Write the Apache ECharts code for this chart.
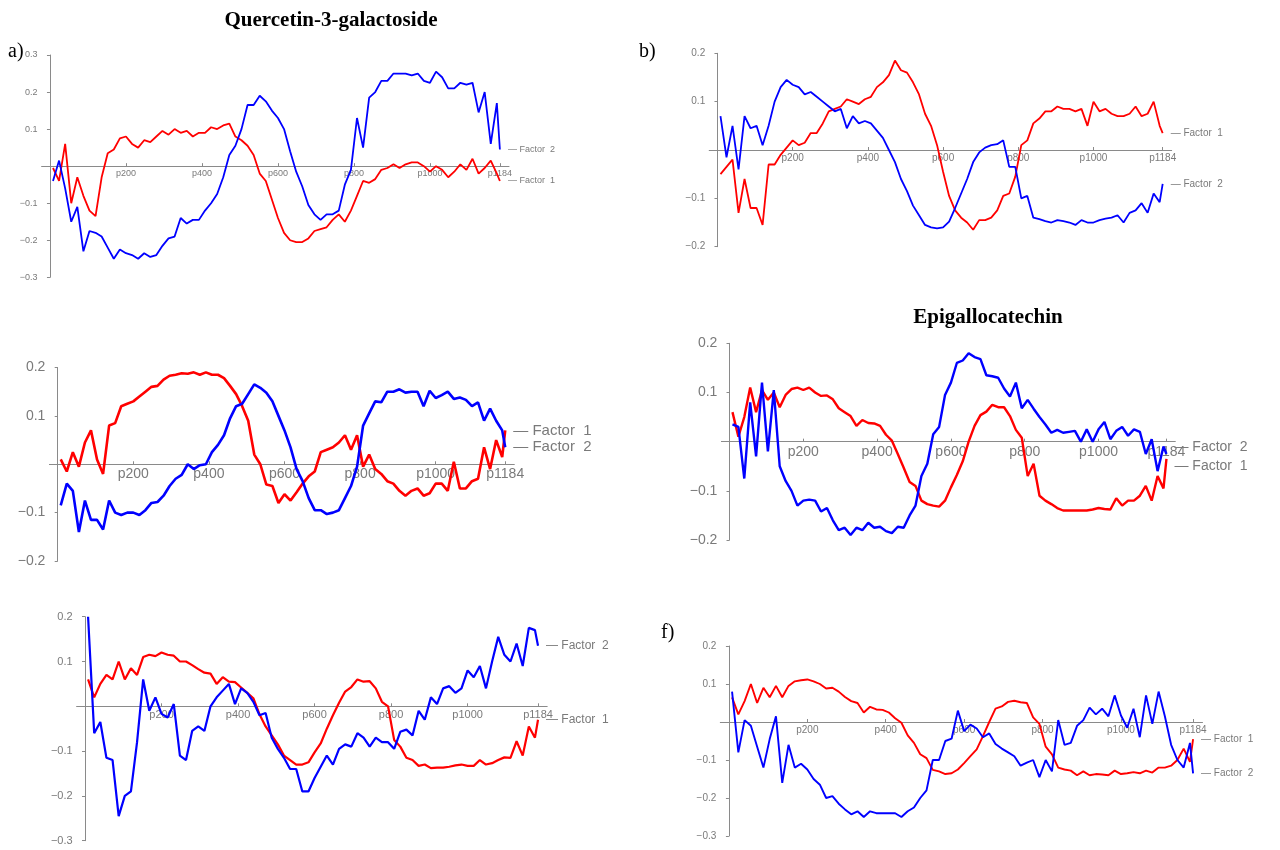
<!DOCTYPE html>
<html>
<head>
<meta charset="utf-8">
<script src="https://cdn.jsdelivr.net/npm/echarts@6/dist/echarts.min.js"></script>
<style>
html, body { margin: 0; background: #fff; }
#chart { width: 1280px; height: 850px; }
</style>
</head>
<body>
<div id="chart"></div>
<script>
// variable positions (every second sampled wavelength) and the labelled ticks
const positions = [8, 24, 40, 56, 72, 88, 104, 120, 136, 152, 168, 184, 200, 216, 232, 248, 264, 280, 296, 312,
    328, 344, 360, 376, 392, 408, 424, 440, 456, 472, 488, 504, 520, 536, 552, 568, 584, 600, 616, 632,
    648, 664, 680, 696, 712, 728, 744, 760, 776, 792, 808, 824, 840, 856, 872, 888, 904, 920, 936, 952,
    968, 984, 1000, 1016, 1032, 1048, 1064, 1080, 1096, 1112, 1128, 1144, 1160, 1176, 1184]
const xTicks = [200, 400, 600, 800, 1000, 1184]

// a) Quercetin-3-galactoside
const aFactor1 = [-0.005, -0.04, 0.06, -0.10, -0.03, -0.08, -0.12, -0.135, -0.03, 0.035, 0.045, 0.075, 0.08, 0.06, 0.05, 0.07, 0.065, 0.08, 0.095, 0.085,
    0.1, 0.09, 0.095, 0.08, 0.09, 0.09, 0.105, 0.1, 0.11, 0.115, 0.08, 0.07, 0.055, 0.03, -0.02, -0.04, -0.09, -0.14, -0.18, -0.2,
    -0.205, -0.205, -0.195, -0.175, -0.17, -0.165, -0.145, -0.13, -0.15, -0.12, -0.08, -0.04, -0.045, -0.035, -0.01, -0.005, 0.005, -0.005, 0.005, 0.01,
    0.01, 0.0, -0.015, 0.0, -0.01, -0.03, -0.015, 0.005, -0.01, 0.02, -0.02, -0.005, 0.015, -0.02, -0.04]
const aFactor2 = [-0.04, 0.015, -0.06, -0.15, -0.11, -0.23, -0.175, -0.18, -0.19, -0.22, -0.25, -0.225, -0.235, -0.24, -0.25, -0.235, -0.245, -0.24, -0.215, -0.195,
    -0.19, -0.14, -0.155, -0.145, -0.145, -0.12, -0.1, -0.075, -0.03, 0.03, 0.055, 0.1, 0.165, 0.165, 0.19, 0.175, 0.15, 0.13, 0.1, 0.04,
    -0.015, -0.055, -0.105, -0.13, -0.145, -0.13, -0.13, -0.12, -0.05, -0.01, 0.13, 0.05, 0.185, 0.2, 0.23, 0.23, 0.25, 0.25, 0.25, 0.245,
    0.25, 0.23, 0.225, 0.255, 0.24, 0.21, 0.21, 0.225, 0.22, 0.225, 0.145, 0.2, 0.06, 0.17, 0.045]

// b)
const bFactor1 = [-0.05, -0.035, -0.02, -0.13, -0.06, -0.12, -0.12, -0.155, -0.03, -0.03, -0.01, 0.005, 0.02, 0.01, 0.015, 0.035, 0.035, 0.055, 0.08, 0.085,
    0.09, 0.105, 0.1, 0.095, 0.105, 0.11, 0.13, 0.14, 0.155, 0.185, 0.165, 0.16, 0.14, 0.115, 0.075, 0.05, 0.01, -0.045, -0.095, -0.125,
    -0.14, -0.15, -0.165, -0.145, -0.145, -0.14, -0.125, -0.095, -0.09, -0.055, 0.01, 0.02, 0.055, 0.065, 0.08, 0.08, 0.09, 0.085, 0.085, 0.08,
    0.085, 0.05, 0.1, 0.08, 0.085, 0.075, 0.07, 0.07, 0.075, 0.09, 0.07, 0.075, 0.1, 0.05, 0.035]
const bFactor2 = [0.07, -0.015, 0.05, -0.04, 0.07, 0.045, 0.05, 0.01, 0.05, 0.1, 0.13, 0.145, 0.135, 0.13, 0.115, 0.12, 0.11, 0.1, 0.09, 0.08,
    0.085, 0.045, 0.07, 0.055, 0.06, 0.055, 0.04, 0.025, 0.0, -0.025, -0.06, -0.085, -0.115, -0.135, -0.155, -0.16, -0.162, -0.16, -0.148, -0.12,
    -0.09, -0.06, -0.025, -0.005, 0.005, 0.01, 0.012, 0.02, -0.035, -0.035, -0.1, -0.095, -0.14, -0.143, -0.147, -0.15, -0.145, -0.147, -0.15, -0.155,
    -0.145, -0.15, -0.15, -0.145, -0.142, -0.14, -0.135, -0.15, -0.13, -0.125, -0.11, -0.13, -0.09, -0.108, -0.07]

// c)
const cFactor1 = [0.01, -0.015, 0.025, -0.005, 0.045, 0.07, 0.01, -0.02, 0.08, 0.085, 0.12, 0.125, 0.13, 0.14, 0.15, 0.16, 0.162, 0.175, 0.183, 0.185,
    0.188, 0.187, 0.19, 0.185, 0.19, 0.185, 0.185, 0.178, 0.162, 0.145, 0.12, 0.09, 0.02, 0.0, -0.042, -0.045, -0.08, -0.062, -0.075, -0.058,
    -0.04, -0.025, -0.015, 0.025, 0.03, 0.035, 0.045, 0.06, 0.03, 0.06, -0.005, 0.02, -0.01, -0.02, -0.035, -0.04, -0.055, -0.065, -0.055, -0.05,
    -0.065, -0.06, -0.04, -0.04, -0.055, 0.005, -0.05, -0.05, -0.035, -0.03, 0.035, -0.01, 0.05, 0.015, 0.07]
const cFactor2 = [-0.085, -0.04, -0.055, -0.14, -0.075, -0.115, -0.115, -0.135, -0.075, -0.1, -0.105, -0.1, -0.1, -0.105, -0.095, -0.08, -0.078, -0.065, -0.045, -0.03,
    -0.022, 0.0, -0.01, -0.002, 0.0, 0.025, 0.04, 0.06, 0.095, 0.12, 0.125, 0.145, 0.165, 0.158, 0.148, 0.13, 0.1, 0.07, 0.035, -0.01,
    -0.035, -0.07, -0.095, -0.095, -0.103, -0.1, -0.095, -0.07, -0.045, -0.005, 0.08, 0.105, 0.13, 0.128, 0.15, 0.15, 0.155, 0.148, 0.15, 0.15,
    0.12, 0.152, 0.137, 0.143, 0.15, 0.135, 0.138, 0.133, 0.12, 0.128, 0.09, 0.115, 0.09, 0.07, 0.035]

// d) Epigallocatechin
const dFactor1 = [0.06, 0.01, 0.05, 0.11, 0.06, 0.105, 0.085, 0.1, 0.07, 0.095, 0.107, 0.11, 0.105, 0.11, 0.1, 0.093, 0.094, 0.086, 0.068, 0.06,
    0.052, 0.032, 0.044, 0.038, 0.037, 0.032, 0.014, 0.002, -0.025, -0.053, -0.082, -0.09, -0.12, -0.127, -0.13, -0.132, -0.12, -0.093, -0.068, -0.04,
    0.0, 0.032, 0.054, 0.061, 0.075, 0.07, 0.07, 0.052, 0.024, 0.008, -0.07, -0.045, -0.11, -0.12, -0.127, -0.135, -0.14, -0.14, -0.14, -0.14,
    -0.14, -0.138, -0.135, -0.137, -0.138, -0.115, -0.13, -0.12, -0.12, -0.11, -0.09, -0.12, -0.07, -0.095, -0.035]
const dFactor2 = [0.035, 0.03, -0.075, 0.08, -0.03, 0.12, -0.02, 0.105, -0.05, -0.08, -0.1, -0.13, -0.12, -0.118, -0.12, -0.142, -0.135, -0.16, -0.18, -0.175,
    -0.19, -0.175, -0.18, -0.165, -0.175, -0.173, -0.182, -0.186, -0.173, -0.175, -0.15, -0.13, -0.07, -0.045, 0.015, 0.03, 0.095, 0.12, 0.16, 0.165,
    0.18, 0.172, 0.168, 0.135, 0.133, 0.13, 0.108, 0.092, 0.12, 0.068, 0.085, 0.067, 0.05, 0.035, 0.018, 0.024, 0.018, 0.02, 0.022, 0.0,
    0.025, 0.0, 0.025, 0.04, 0.005, 0.022, 0.03, 0.012, 0.025, 0.02, -0.025, 0.005, -0.06, -0.01, -0.025]

// e)
const eFactor1 = [0.06, 0.02, 0.05, 0.07, 0.06, 0.1, 0.06, 0.085, 0.07, 0.11, 0.115, 0.112, 0.12, 0.115, 0.113, 0.1, 0.1, 0.092, 0.083, 0.075,
    0.073, 0.05, 0.065, 0.055, 0.054, 0.042, 0.03, 0.018, -0.018, -0.045, -0.065, -0.085, -0.11, -0.12, -0.13, -0.13, -0.125, -0.103, -0.083, -0.05,
    -0.02, 0.008, 0.033, 0.043, 0.06, 0.055, 0.056, 0.04, 0.01, 0.0, -0.075, -0.09, -0.115, -0.12, -0.133, -0.13, -0.138, -0.137, -0.137, -0.135,
    -0.132, -0.13, -0.133, -0.133, -0.12, -0.13, -0.127, -0.12, -0.114, -0.115, -0.078, -0.11, -0.045, -0.07, -0.03]
const eFactor2 = [0.2, -0.06, -0.035, -0.115, -0.12, -0.245, -0.2, -0.19, -0.08, 0.06, -0.01, 0.02, -0.017, -0.025, 0.005, -0.11, -0.12, -0.055, -0.045, -0.055,
    0.0, 0.02, 0.035, 0.05, 0.005, 0.04, 0.03, 0.01, -0.02, -0.015, -0.07, -0.095, -0.115, -0.14, -0.14, -0.19, -0.19, -0.16, -0.135, -0.11,
    -0.13, -0.095, -0.085, -0.09, -0.06, -0.07, -0.09, -0.07, -0.08, -0.08, -0.095, -0.057, -0.052, -0.065, -0.01, -0.03, 0.02, 0.005, 0.04, 0.045,
    0.03, 0.04, 0.08, 0.065, 0.09, 0.04, 0.1, 0.155, 0.115, 0.1, 0.14, 0.09, 0.175, 0.17, 0.135]

// f)
const fFactor1 = [0.065, 0.02, 0.055, 0.1, 0.05, 0.09, 0.065, 0.095, 0.065, 0.095, 0.107, 0.11, 0.112, 0.107, 0.1, 0.088, 0.09, 0.08, 0.066, 0.055,
    0.05, 0.025, 0.04, 0.033, 0.032, 0.025, 0.01, -0.002, -0.035, -0.055, -0.085, -0.095, -0.126, -0.13, -0.137, -0.135, -0.125, -0.108, -0.09, -0.072,
    -0.037, 0.0, 0.035, 0.041, 0.053, 0.056, 0.052, 0.05, 0.012, -0.005, -0.065, -0.085, -0.12, -0.125, -0.128, -0.14, -0.13, -0.14, -0.137, -0.138,
    -0.14, -0.128, -0.137, -0.135, -0.132, -0.135, -0.128, -0.133, -0.12, -0.12, -0.115, -0.1, -0.07, -0.105, -0.045]
const fFactor2 = [0.08, -0.08, 0.005, -0.01, -0.065, -0.12, -0.045, 0.015, -0.16, -0.06, -0.12, -0.11, -0.125, -0.15, -0.165, -0.2, -0.195, -0.215, -0.23, -0.243,
    -0.235, -0.25, -0.235, -0.24, -0.24, -0.24, -0.24, -0.25, -0.235, -0.225, -0.2, -0.18, -0.1, -0.1, -0.05, -0.044, 0.03, -0.024, -0.007, -0.017,
    -0.04, -0.03, -0.058, -0.07, -0.08, -0.09, -0.115, -0.107, -0.1, -0.145, -0.1, -0.13, 0.005, -0.06, -0.055, -0.01, 0.005, 0.038, 0.02, 0.035,
    0.015, 0.07, 0.017, -0.015, 0.035, -0.04, 0.07, -0.005, 0.08, 0.015, -0.06, -0.1, -0.12, -0.055, -0.135]

const panels = [
    { f1: aFactor1, f2: aFactor2, left: 41.6, top: 55, width: 467.4, height: 222.3, min: -0.3, max: 0.3, font: 9, tag: 9, lw: 1.8 },
    { f1: bFactor1, f2: bFactor2, left: 709.2, top: 53.3, width: 462.5, height: 193.4, min: -0.2, max: 0.2, font: 10, tag: 10, lw: 1.8 },
    { f1: cFactor1, f2: cFactor2, left: 49.4, top: 367.5, width: 464.9, height: 193.5, min: -0.2, max: 0.2, font: 14, tag: 15, lw: 2.6 },
    { f1: dFactor1, f2: dFactor2, left: 721.4, top: 343.3, width: 453.9, height: 196.7, min: -0.2, max: 0.2, font: 14, tag: 14, lw: 2.4,
        off1: [0, 7], off2: [0, -7] },
    { f1: eFactor1, f2: eFactor2, left: 76.6, top: 616.7, width: 470.6, height: 224, min: -0.3, max: 0.2, font: 11, tag: 12, lw: 2.2 },
    { f1: fFactor1, f2: fFactor2, left: 720.3, top: 646, width: 482.2, height: 190, min: -0.3, max: 0.2, font: 10, tag: 10, lw: 1.9 },
]

const axisGray = "#8a8a8a"
const labelGray = "#7a7a7a"

function yFmt(v) {
    if (Math.abs(v) < 1e-9) return ""
    const s = Math.abs(v).toFixed(1)
    return v < 0 ? "\u2212" + s : s
}

function makeSeries(p, i, name, values, color, offset) {
    return {
        name: name,
        type: "line",
        xAxisIndex: i,
        yAxisIndex: i,
        data: positions.map((x, k) => [x, values[k]]),
        showSymbol: false,
        symbol: "none",
        silent: true,
        lineStyle: { color: color, width: p.lw },
        endLabel: {
            show: true,
            formatter: "\u2014 " + name.replace(" ", "  "),
            color: labelGray,
            fontSize: p.tag,
            fontFamily: "Liberation Sans",
            distance: 8,
            offset: offset || [0, 0],
        },
    }
}

const grids = [], xAxes = [], yAxes = [], series = []
panels.forEach((p, i) => {
    grids.push({ left: p.left, top: p.top, width: p.width, height: p.height, containLabel: false })
    // lift the bottom axis up to the zero line (line, ticks and labels together)
    const zeroLift = -p.height * (0 - p.min) / (p.max - p.min)
    xAxes.push({
        type: "value",
        gridIndex: i,
        min: -22,
        max: 1208,
        position: "bottom",
        offset: zeroLift,
        axisLine: { onZero: false, lineStyle: { color: axisGray, width: 1 } },
        axisTick: { show: true, customValues: xTicks, length: 3, inside: true, lineStyle: { color: axisGray } },
        axisLabel: {
            customValues: xTicks,
            formatter: v => "p" + v,
            color: labelGray,
            fontSize: p.font,
            fontFamily: "Liberation Sans",
            margin: 3,
        },
        splitLine: { show: false },
    })
    yAxes.push({
        type: "value",
        gridIndex: i,
        min: p.min,
        max: p.max,
        interval: 0.1,
        axisLine: { show: true, onZero: true, lineStyle: { color: axisGray, width: 1 } },
        axisTick: { show: true, length: 3, lineStyle: { color: axisGray } },
        axisLabel: {
            formatter: yFmt,
            color: labelGray,
            fontSize: p.font,
            fontFamily: "Liberation Sans",
            margin: 4,
            showMinLabel: true,
            showMaxLabel: true,
        },
        splitLine: { show: false },
    })
    series.push(makeSeries(p, i, "Factor 1", p.f1, "#ff0000", p.off1))
    series.push(makeSeries(p, i, "Factor 2", p.f2, "#0000ff", p.off2))
})

const serif = "Liberation Serif"
const option = {
    backgroundColor: "#ffffff",
    animation: false,
    grid: grids,
    xAxis: xAxes,
    yAxis: yAxes,
    series: series,
    graphic: [
        { type: "text", x: 331, y: 21, style: { text: "Quercetin-3-galactoside", align: "center", verticalAlign: "middle",
            fontFamily: serif, fontWeight: "bold", fontSize: 21, fill: "#000" } },
        { type: "text", x: 988, y: 318, style: { text: "Epigallocatechin", align: "center", verticalAlign: "middle",
            fontFamily: serif, fontWeight: "bold", fontSize: 21, fill: "#000" } },
        { type: "text", x: 8, y: 52, style: { text: "a)", verticalAlign: "middle", fontFamily: serif, fontSize: 20, fill: "#000" } },
        { type: "text", x: 639, y: 52, style: { text: "b)", verticalAlign: "middle", fontFamily: serif, fontSize: 20, fill: "#000" } },
        { type: "text", x: 661, y: 633, style: { text: "f)", verticalAlign: "middle", fontFamily: serif, fontSize: 20, fill: "#000" } },
    ],
}

const chart = echarts.init(document.getElementById("chart"), null, { renderer: "canvas" })
chart.setOption(option)
</script>
</body>
</html>
